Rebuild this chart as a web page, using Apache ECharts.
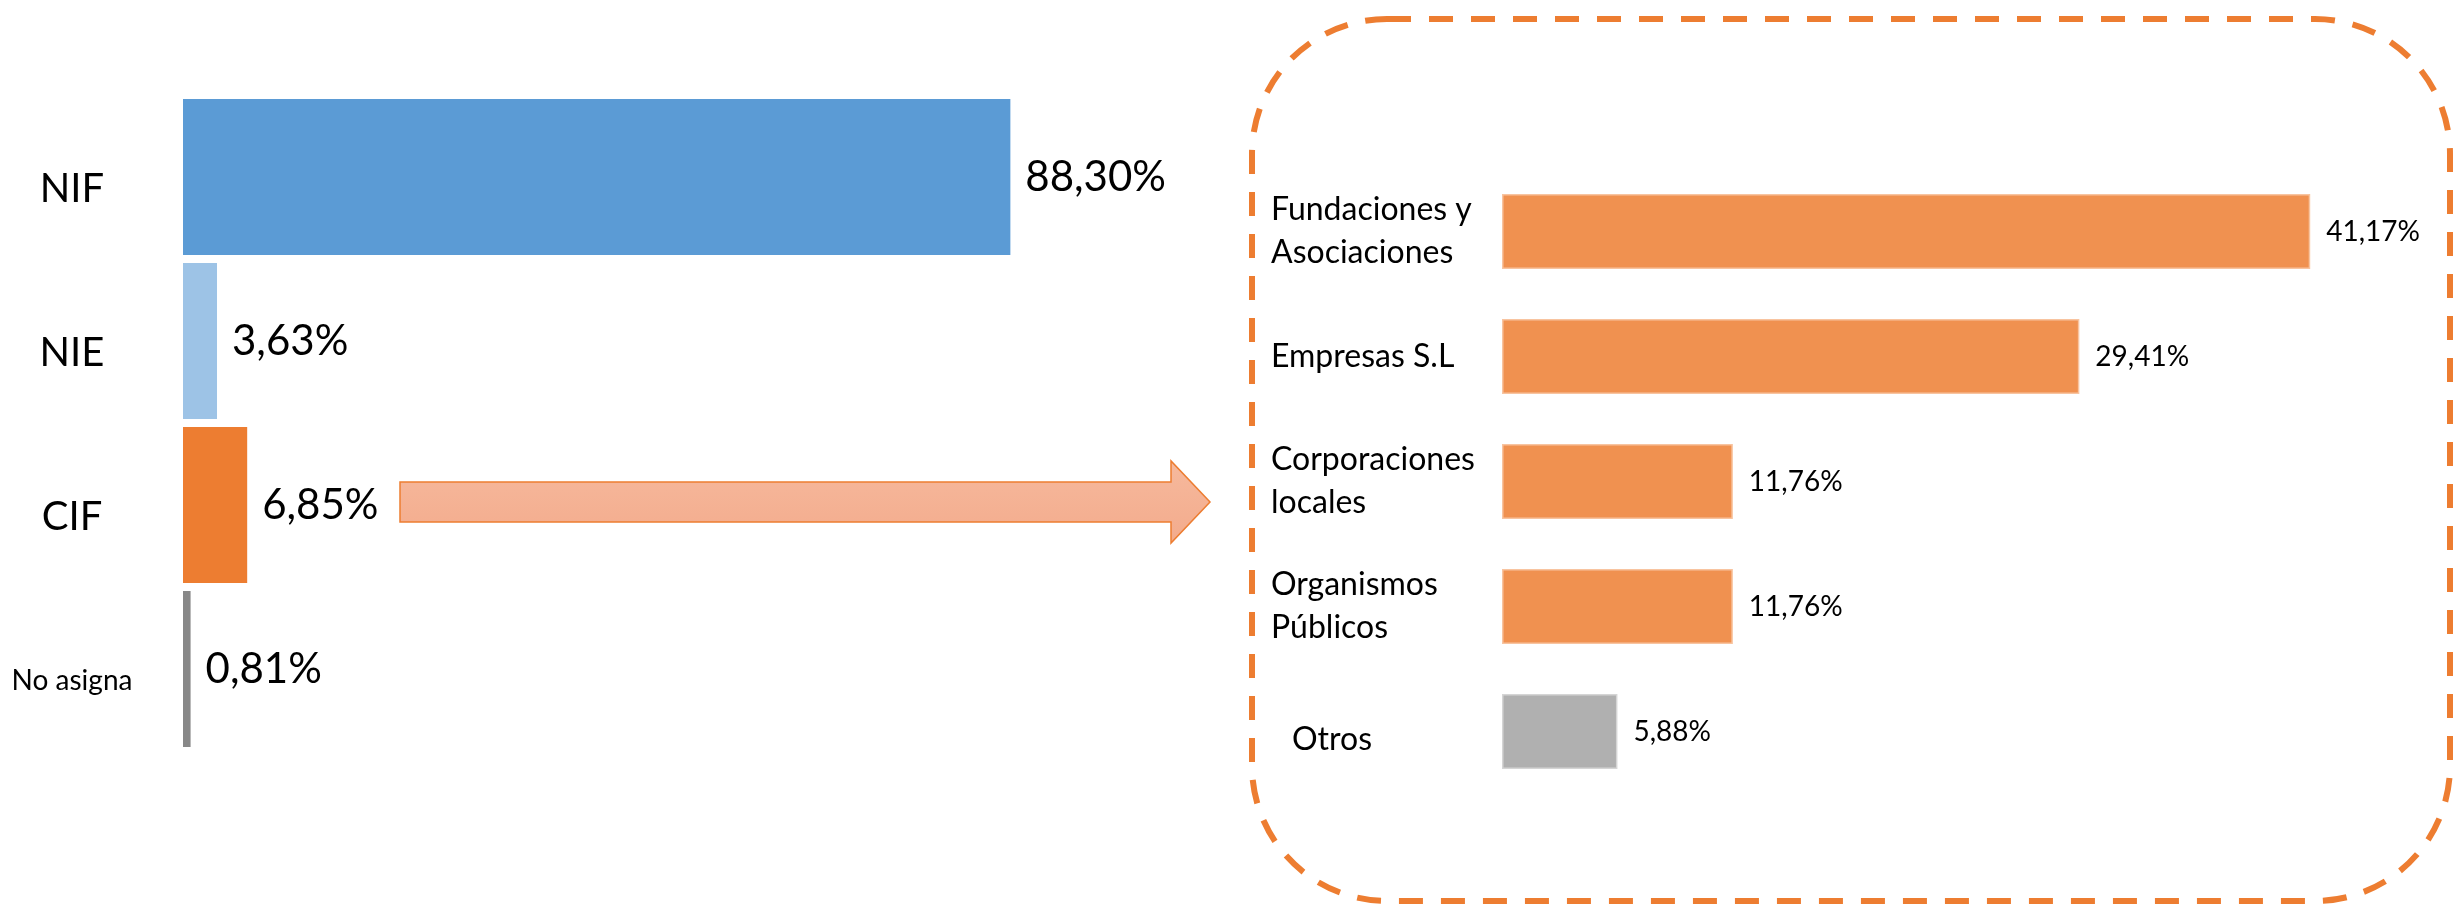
<!DOCTYPE html>
<html>
<head>
<meta charset="utf-8">
<script src="https://cdn.jsdelivr.net/npm/echarts@6/dist/echarts.min.js"></script>
<style>
  html, body { margin: 0; padding: 0; background: #fff; }
  #chart { width: 2453px; height: 905px; }
</style>
</head>
<body>
<div id="chart"></div>
<script>
// tipo de identificador
var idCategories = ['NIF', 'NIE', 'CIF', 'No asigna'];
var idValues = [88.30, 3.63, 6.85, 0.81];
var idColors = ['#5B9BD5', '#9DC3E6', '#ED7D31', '#888888'];

// desglose de CIF
var cifCategories = ['Fundaciones y\nAsociaciones', 'Empresas S.L', 'Corporaciones\nlocales', 'Organismos\nPúblicos', 'Otros'];
var cifValues = [41.17, 29.41, 11.76, 11.76, 5.88];

var FONT = 'Lato';

function pct(v) {
  return v.toFixed(2).replace('.', ',') + '%';
}

var chart = echarts.init(document.getElementById('chart'));

chart.setOption({
  animation: false,
  backgroundColor: '#fff',
  textStyle: { fontFamily: FONT, color: '#000' },
  grid: [
    { left: 183, top: 95, width: 937, height: 656 },
    { left: 1502, top: 169, width: 883.4, height: 625 }
  ],
  xAxis: [
    { gridIndex: 0, type: 'value', min: 0, max: 100, show: false },
    { gridIndex: 1, type: 'value', min: 0, max: 45, show: false }
  ],
  yAxis: [
    {
      gridIndex: 0,
      type: 'category',
      inverse: true,
      data: idCategories,
      axisLine: { show: false },
      axisTick: { show: false },
      axisLabel: {
        margin: 111,
        align: 'center',
        color: '#000',
        fontFamily: FONT,
        fontSize: 40,
        padding: [24, 0, 0, 0],
        formatter: function (v) {
          return v === 'No asigna' ? '{s|' + v + '}' : v;
        },
        rich: {
          s: { fontSize: 28, fontFamily: FONT, color: '#000' }
        }
      }
    },
    {
      gridIndex: 1,
      type: 'category',
      inverse: true,
      data: cifCategories,
      axisLine: { show: false },
      axisTick: { show: false },
      axisLabel: {
        margin: 231,
        align: 'left',
        color: '#000',
        fontFamily: FONT,
        fontSize: 32,
        lineHeight: 43,
        formatter: function (v) {
          return v === 'Otros' ? '{o|' + v + '}' : v;
        },
        rich: {
          o: { fontSize: 32, fontFamily: FONT, color: '#000', padding: [16, 0, 0, 21] }
        }
      }
    }
  ],
  series: [
    {
      type: 'bar',
      xAxisIndex: 0,
      yAxisIndex: 0,
      barCategoryGap: '5%',
      data: idValues.map(function (v, i) {
        return { value: v, itemStyle: { color: idColors[i] } };
      }),
      label: {
        show: true,
        position: 'right',
        distance: 15,
        fontFamily: FONT,
        fontSize: 42,
        color: '#000',
        formatter: function (p) { return pct(p.value); }
      }
    },
    {
      type: 'bar',
      xAxisIndex: 1,
      yAxisIndex: 1,
      barCategoryGap: '40%',
      data: cifValues.map(function (v, i) {
        var otros = i === cifValues.length - 1;
        return {
          value: v,
          itemStyle: {
            color: otros ? '#B0B0B0' : '#F09150',
            borderColor: otros ? '#D5D5D5' : '#F8C4A0',
            borderWidth: 1.5
          }
        };
      }),
      label: {
        show: true,
        position: 'right',
        distance: 16,
        fontFamily: FONT,
        fontSize: 28,
        color: '#000',
        padding: [12, 0, 0, 0],
        formatter: function (p) { return pct(p.value); }
      }
    }
  ],
  graphic: [
    {
      type: 'polygon',
      z: 10,
      shape: {
        points: [[400, 482], [1171, 482], [1171, 461], [1210, 502], [1171, 543], [1171, 522], [400, 522]]
      },
      style: {
        fill: new echarts.graphic.LinearGradient(0, 0, 0, 1, [
          { offset: 0, color: '#F6B99D' },
          { offset: 1, color: '#F3AB8C' }
        ]),
        stroke: '#ED7D31',
        lineWidth: 1.5
      }
    },
    {
      type: 'rect',
      z: 10,
      shape: { x: 1252, y: 19, width: 1198, height: 882, r: 135 },
      style: {
        fill: 'none',
        stroke: '#ED7D31',
        lineWidth: 6,
        lineDash: [24, 18]
      }
    }
  ]
});
</script>
</body>
</html>
